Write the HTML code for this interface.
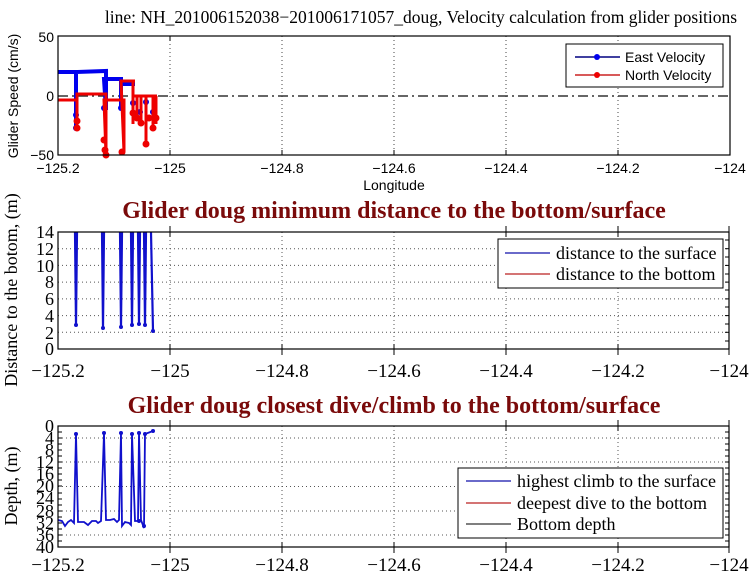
<!DOCTYPE html>
<html><head><meta charset="utf-8"><style>
body{margin:0;background:#fff;}
svg text{font-family:"Liberation Serif",serif;}
.s{font-family:"Liberation Sans",sans-serif !important;}
</style></head><body>
<svg width="750" height="572" viewBox="0 0 750 572" xmlns="http://www.w3.org/2000/svg">
<text x="421" y="23" font-size="17.5" text-anchor="middle">line: NH_201006152038−201006171057_doug, Velocity calculation from glider positions</text>

<!-- Plot 1 -->
<g stroke="#444" stroke-dasharray="1,3" stroke-width="1">
<line x1="170" y1="36" x2="170" y2="155"/><line x1="282" y1="36" x2="282" y2="155"/><line x1="394" y1="36" x2="394" y2="155"/><line x1="506" y1="36" x2="506" y2="155"/><line x1="618" y1="36" x2="618" y2="155"/>
</g>
<line x1="58" y1="96" x2="730" y2="96" stroke="#333" stroke-width="1.5" stroke-dasharray="10,4,2,4"/>
<g stroke="#0000ee" stroke-width="4" fill="none">
<polyline points="58,72 76,72 76,100 76,128 76,72 106,71 106,100 106,110 104,79 121,79 121,110 121,84 135,84"/>
</g>
<g fill="#0000ee"><circle cx="76" cy="115" r="3"/><circle cx="76" cy="128" r="3"/><circle cx="104" cy="108" r="3"/><circle cx="121" cy="108" r="3"/><circle cx="133" cy="103" r="3"/><circle cx="140" cy="112" r="3"/><circle cx="146" cy="102" r="3"/><circle cx="153" cy="112" r="3"/></g>
<g stroke="#ee0000" stroke-width="3" fill="none">
<polyline points="58,100 77,100 77,128 77,94 106,94 106,155 104,100 124,100 124,152 121,81 135,81 133,81 133,124 133,96 157,96"/>
<line x1="141" y1="96" x2="141" y2="123"/><line x1="146" y1="96" x2="146" y2="144"/><line x1="153" y1="96" x2="153" y2="128"/><line x1="137" y1="96" x2="137" y2="118"/><line x1="156" y1="96" x2="156" y2="124"/>
</g>
<g fill="#ee0000"><circle cx="77" cy="121" r="3.5"/><circle cx="77" cy="128" r="3.5"/><circle cx="104" cy="140" r="3.5"/><circle cx="105" cy="150" r="3.5"/><circle cx="106" cy="155" r="3.5"/><circle cx="122" cy="152" r="3.5"/><circle cx="133" cy="113" r="3.5"/><circle cx="137" cy="118" r="3.5"/><circle cx="141" cy="123" r="3.5"/><circle cx="146" cy="144" r="3.5"/><circle cx="149" cy="118" r="3.5"/><circle cx="153" cy="128" r="3.5"/><circle cx="156" cy="118" r="3.5"/></g>
<rect x="58" y="36" width="672" height="119" fill="none" stroke="#000" stroke-width="1.2"/>
<g stroke="#000"><line x1="170" y1="36" x2="170" y2="41"/><line x1="170" y1="155" x2="170" y2="150"/><line x1="282" y1="155" x2="282" y2="150"/><line x1="394" y1="155" x2="394" y2="150"/><line x1="506" y1="155" x2="506" y2="150"/><line x1="618" y1="155" x2="618" y2="150"/></g>
<g font-size="14" text-anchor="middle">
<text class="s" x="58" y="173">−125.2</text><text class="s" x="170" y="173">−125</text><text class="s" x="282" y="173">−124.8</text><text class="s" x="394" y="173">−124.6</text><text class="s" x="506" y="173">−124.4</text><text class="s" x="618" y="173">−124.2</text><text class="s" x="730" y="173">−124</text>
<text class="s" x="394" y="190">Longitude</text>
</g>
<g font-size="14" text-anchor="end"><text class="s" x="54" y="42">50</text><text class="s" x="54" y="101">0</text><text class="s" x="54" y="160">−50</text></g>
<text class="s" x="18" y="96" font-size="14" text-anchor="middle" transform="rotate(-90 18 96)">Glider Speed (cm/s)</text>
<rect x="566" y="44" width="157" height="43" fill="#fff" stroke="#000"/>
<line x1="575" y1="57" x2="620" y2="57" stroke="#000080" stroke-width="1.5"/><circle cx="597" cy="57" r="3" fill="#0000ee"/>
<line x1="575" y1="75" x2="620" y2="75" stroke="#cc2222" stroke-width="1.5"/><circle cx="597" cy="75" r="3" fill="#ee0000"/>
<text class="s" x="625" y="62" font-size="14">East Velocity</text><text class="s" x="625" y="80" font-size="14">North Velocity</text>

<!-- Plot 2 -->
<text x="394" y="218" font-size="24" font-weight="bold" fill="#7a0a0a" text-anchor="middle">Glider doug minimum distance to the bottom/surface</text>
<g stroke="#555" stroke-dasharray="1,3">
<line x1="58" y1="248.7" x2="729" y2="248.7"/><line x1="58" y1="265.4" x2="729" y2="265.4"/><line x1="58" y1="282.1" x2="729" y2="282.1"/><line x1="58" y1="298.9" x2="729" y2="298.9"/><line x1="58" y1="315.6" x2="729" y2="315.6"/><line x1="58" y1="332.3" x2="729" y2="332.3"/>
<line x1="170" y1="232" x2="170" y2="349"/><line x1="282" y1="232" x2="282" y2="349"/><line x1="394" y1="232" x2="394" y2="349"/><line x1="506" y1="232" x2="506" y2="349"/><line x1="618" y1="232" x2="618" y2="349"/>
</g>
<g stroke="#1010cc" stroke-width="2.2" fill="none">
<polyline points="75,232 76,325 77,232"/><polyline points="102,232 103,328 104,232"/><polyline points="120,232 121,327 122,232"/><polyline points="131,232 132,325 133,232"/><polyline points="138,232 139,324 140,232"/><polyline points="144,232 145,325 146,232"/><polyline points="151,232 153,331"/>
</g>
<g fill="#1010cc"><circle cx="76" cy="325" r="2"/><circle cx="103" cy="328" r="2"/><circle cx="121" cy="327" r="2"/><circle cx="132" cy="325" r="2"/><circle cx="139" cy="324" r="2"/><circle cx="145" cy="325" r="2"/><circle cx="153" cy="331" r="2"/></g>
<rect x="58" y="232" width="671" height="117" fill="none" stroke="#000" stroke-width="1.2"/>
<g stroke="#000">
<line x1="729" y1="240" x2="725" y2="240"/><line x1="729" y1="248.7" x2="725" y2="248.7"/><line x1="729" y1="257" x2="725" y2="257"/><line x1="729" y1="265.4" x2="725" y2="265.4"/><line x1="729" y1="274" x2="725" y2="274"/><line x1="729" y1="282.1" x2="725" y2="282.1"/><line x1="729" y1="290" x2="725" y2="290"/><line x1="729" y1="298.9" x2="725" y2="298.9"/><line x1="729" y1="307" x2="725" y2="307"/><line x1="729" y1="315.6" x2="725" y2="315.6"/><line x1="729" y1="324" x2="725" y2="324"/><line x1="729" y1="332.3" x2="725" y2="332.3"/><line x1="729" y1="341" x2="725" y2="341"/>
<line x1="170" y1="226" x2="170" y2="237"/><line x1="506" y1="226" x2="506" y2="237"/><line x1="618" y1="226" x2="618" y2="237"/><line x1="729" y1="226" x2="729" y2="237"/>
<line x1="170" y1="344" x2="170" y2="355"/><line x1="282" y1="344" x2="282" y2="355"/><line x1="394" y1="344" x2="394" y2="355"/><line x1="506" y1="344" x2="506" y2="355"/><line x1="618" y1="344" x2="618" y2="355"/><line x1="729" y1="344" x2="729" y2="355"/>
</g>
<g font-size="18" text-anchor="end"><text x="54" y="238">14</text><text x="54" y="255">12</text><text x="54" y="272">10</text><text x="54" y="288">8</text><text x="54" y="305">6</text><text x="54" y="322">4</text><text x="54" y="339">2</text><text x="54" y="355">0</text></g>
<g font-size="19" text-anchor="middle"><text x="58" y="377">−125.2</text><text x="170" y="377">−125</text><text x="282" y="377">−124.8</text><text x="394" y="377">−124.6</text><text x="506" y="377">−124.4</text><text x="618" y="377">−124.2</text><text x="729" y="377">−124</text></g>
<text x="17" y="290" font-size="18" text-anchor="middle" transform="rotate(-90 17 290)">Distance to the botom, (m)</text>
<rect x="498" y="239" width="225" height="49" fill="#fff" stroke="#000"/>
<line x1="505" y1="253" x2="550" y2="253" stroke="#1010aa" stroke-width="1.3"/><line x1="505" y1="274" x2="550" y2="274" stroke="#bb2222" stroke-width="1.3"/>
<text x="556" y="259" font-size="18">distance to the surface</text><text x="556" y="280" font-size="18">distance to the bottom</text>

<!-- Plot 3 -->
<text x="394" y="413" font-size="24" font-weight="bold" fill="#7a0a0a" text-anchor="middle">Glider doug closest dive/climb to the bottom/surface</text>
<g stroke="#555" stroke-dasharray="1,3">
<line x1="58" y1="438" x2="729" y2="438"/><line x1="58" y1="462" x2="729" y2="462"/><line x1="58" y1="486.5" x2="729" y2="486.5"/><line x1="58" y1="511" x2="729" y2="511"/><line x1="58" y1="535" x2="729" y2="535"/>
<line x1="170" y1="426" x2="170" y2="547"/><line x1="282" y1="426" x2="282" y2="547"/><line x1="394" y1="426" x2="394" y2="547"/><line x1="506" y1="426" x2="506" y2="547"/><line x1="618" y1="426" x2="618" y2="547"/>
</g>
<polyline fill="none" stroke="#1010cc" stroke-width="1.8" points="58,520 62,521 65,526 68,522 71,520 74,523 76,434 78,522 84,522 88,525 92,521 96,521 98,523 101,521 104,433 106,520 110,520 114,519 117,522 119,520 121,433 122,526 125,522 129,523 131,525 132,434 135,521 138,521 139,433 141,520 144,528 145,434 153,431"/>
<g fill="#1010cc"><circle cx="76" cy="434" r="2"/><circle cx="104" cy="433" r="2"/><circle cx="121" cy="433" r="2"/><circle cx="132" cy="434" r="2"/><circle cx="139" cy="433" r="2"/><circle cx="145" cy="434" r="2"/><circle cx="153" cy="431" r="2"/><circle cx="139" cy="521" r="2"/><circle cx="144" cy="526" r="2"/></g>
<rect x="58" y="426" width="671" height="121" fill="none" stroke="#000" stroke-width="1.2"/>
<g stroke="#000">
<line x1="58" y1="432" x2="62" y2="432"/><line x1="58" y1="438" x2="62" y2="438"/><line x1="58" y1="444" x2="62" y2="444"/><line x1="58" y1="450" x2="62" y2="450"/><line x1="58" y1="456" x2="62" y2="456"/><line x1="58" y1="462" x2="62" y2="462"/><line x1="58" y1="468" x2="62" y2="468"/><line x1="58" y1="474" x2="62" y2="474"/><line x1="58" y1="480" x2="62" y2="480"/><line x1="58" y1="486" x2="62" y2="486"/><line x1="58" y1="493" x2="62" y2="493"/><line x1="58" y1="499" x2="62" y2="499"/><line x1="58" y1="505" x2="62" y2="505"/><line x1="58" y1="511" x2="62" y2="511"/><line x1="58" y1="517" x2="62" y2="517"/><line x1="58" y1="523" x2="62" y2="523"/><line x1="58" y1="529" x2="62" y2="529"/><line x1="58" y1="535" x2="62" y2="535"/><line x1="58" y1="541" x2="62" y2="541"/>
<line x1="729" y1="432" x2="725" y2="432"/><line x1="729" y1="438" x2="725" y2="438"/><line x1="729" y1="444" x2="725" y2="444"/><line x1="729" y1="450" x2="725" y2="450"/><line x1="729" y1="456" x2="725" y2="456"/><line x1="729" y1="462" x2="725" y2="462"/><line x1="729" y1="468" x2="725" y2="468"/><line x1="729" y1="474" x2="725" y2="474"/><line x1="729" y1="480" x2="725" y2="480"/><line x1="729" y1="486" x2="725" y2="486"/><line x1="729" y1="493" x2="725" y2="493"/><line x1="729" y1="499" x2="725" y2="499"/><line x1="729" y1="505" x2="725" y2="505"/><line x1="729" y1="511" x2="725" y2="511"/><line x1="729" y1="517" x2="725" y2="517"/><line x1="729" y1="523" x2="725" y2="523"/><line x1="729" y1="529" x2="725" y2="529"/><line x1="729" y1="535" x2="725" y2="535"/><line x1="729" y1="541" x2="725" y2="541"/>
<line x1="170" y1="420" x2="170" y2="431"/><line x1="506" y1="420" x2="506" y2="431"/><line x1="618" y1="420" x2="618" y2="431"/><line x1="729" y1="420" x2="729" y2="431"/>
<line x1="170" y1="542" x2="170" y2="553"/><line x1="282" y1="542" x2="282" y2="553"/><line x1="394" y1="542" x2="394" y2="553"/><line x1="506" y1="542" x2="506" y2="553"/><line x1="618" y1="542" x2="618" y2="553"/><line x1="729" y1="542" x2="729" y2="553"/>
</g>
<g font-size="18" text-anchor="end"><text x="54" y="432">0</text><text x="54" y="444">4</text><text x="54" y="456">8</text><text x="54" y="468">12</text><text x="54" y="480">16</text><text x="54" y="492">20</text><text x="54" y="504">24</text><text x="54" y="517">28</text><text x="54" y="529">32</text><text x="54" y="541">36</text><text x="54" y="553">40</text></g>
<g font-size="19" text-anchor="middle"><text x="58" y="571">−125.2</text><text x="170" y="571">−125</text><text x="282" y="571">−124.8</text><text x="394" y="571">−124.6</text><text x="506" y="571">−124.4</text><text x="618" y="571">−124.2</text><text x="729" y="571">−124</text></g>
<text x="17" y="486" font-size="18" text-anchor="middle" transform="rotate(-90 17 486)">Depth, (m)</text>
<rect x="458" y="468" width="265" height="70" fill="#fff" stroke="#000"/>
<line x1="466" y1="481" x2="511" y2="481" stroke="#1010aa" stroke-width="1.3"/><line x1="466" y1="503" x2="511" y2="503" stroke="#bb2222" stroke-width="1.3"/><line x1="466" y1="524" x2="511" y2="524" stroke="#333" stroke-width="1.3"/>
<text x="517" y="487" font-size="18">highest climb to the surface</text><text x="517" y="509" font-size="18">deepest dive to the bottom</text><text x="517" y="530" font-size="18">Bottom depth</text>
</svg>
</body></html>
